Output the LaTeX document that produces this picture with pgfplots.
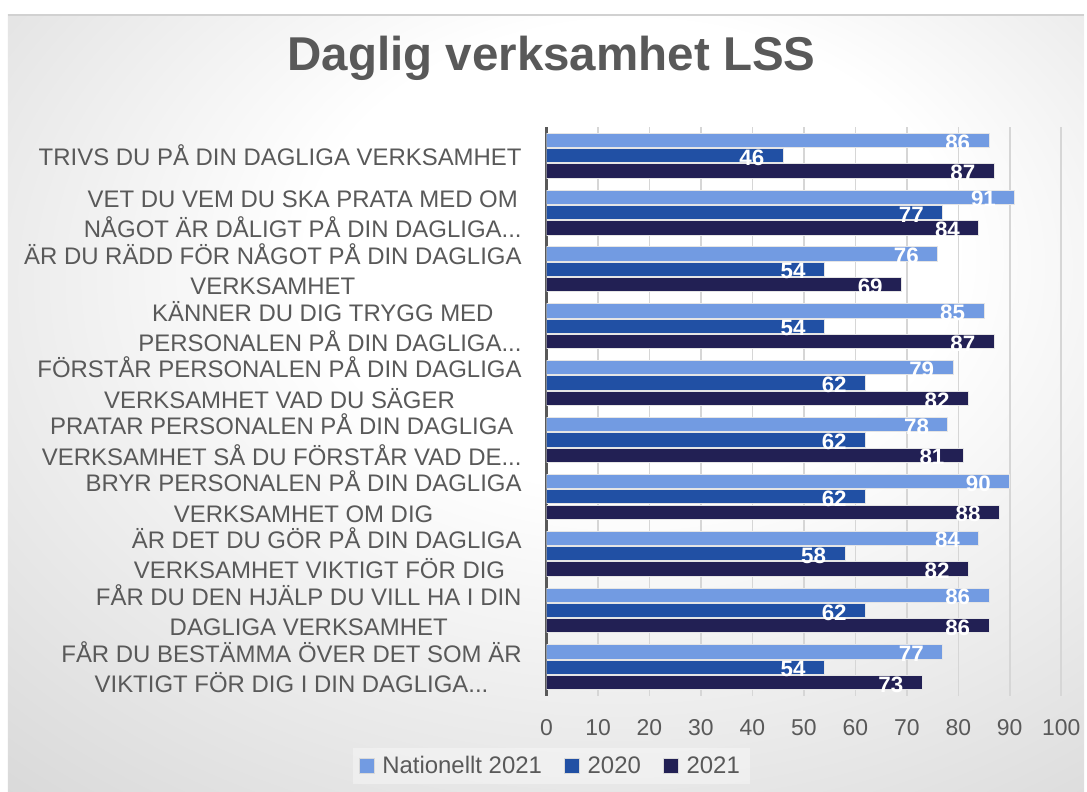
\documentclass[border=0pt]{standalone}
\usepackage{fontspec}
\setmainfont{Liberation Sans}
\usepackage{pgfplots}
\pgfplotsset{compat=1.18}

\definecolor{natblue}{RGB}{114,155,226}
\definecolor{blue20}{RGB}{33,80,164}
\definecolor{navy21}{RGB}{34,32,84}
\definecolor{txtgray}{RGB}{89,89,89}
\newcommand{\ddd}{...}

\pgfdeclareradialshading{chartbg}{\pgfpoint{5bp}{12bp}}{%
  color(0bp)=(white); color(15bp)=(white); color(50bp)=(black!20); color(75bp)=(black!27)}

\begin{document}
\begin{tikzpicture}
\fill[white] (0pt,0pt) rectangle (543.5pt,397pt);
\shade[shading=chartbg] (4pt,0pt) rectangle (543.5pt,389.5pt);
\draw[black!18, line width=0.8pt] (4pt,389.5pt) -- (543.5pt,389.5pt);
\node[anchor=base, font=\fontsize{23.8}{28}\selectfont\bfseries, text=txtgray]
  at (276.5pt,361.5pt) {Daglig verksamhet LSS};

\begin{axis}[
  at={(274pt,48.2pt)}, anchor=south west,
  scale only axis, width=258pt, height=285pt,
  xbar, bar width=0.25,
  xmin=0, xmax=100, ymin=-0.5, ymax=9.5, y dir=reverse,
  xtick={0,10,...,100}, ytick={0,...,9},
  yticklabels={
    {\strut TRIVS DU PÅ DIN DAGLIGA VERKSAMHET},
    {\strut VET DU VEM DU SKA PRATA MED OM\\\strut NÅGOT ÄR DÅLIGT PÅ DIN DAGLIGA\ddd},
    {\strut ÄR DU RÄDD FÖR NÅGOT PÅ DIN DAGLIGA\\\strut VERKSAMHET},
    {\strut KÄNNER DU DIG TRYGG MED\kern0.6em\\\strut PERSONALEN PÅ DIN DAGLIGA\ddd},
    {\strut FÖRSTÅR PERSONALEN PÅ DIN DAGLIGA\\\strut VERKSAMHET VAD DU SÄGER},
    {\strut PRATAR PERSONALEN PÅ DIN DAGLIGA\\\strut VERKSAMHET SÅ DU FÖRSTÅR VAD DE\ddd},
    {\strut BRYR PERSONALEN PÅ DIN DAGLIGA\\\strut VERKSAMHET OM DIG},
    {\strut ÄR DET DU GÖR PÅ DIN DAGLIGA\\\strut VERKSAMHET VIKTIGT FÖR DIG\kern0.6em},
    {\strut FÅR DU DEN HJÄLP DU VILL HA I DIN\\\strut DAGLIGA VERKSAMHET},
    {\strut FÅR DU BESTÄMMA ÖVER DET SOM ÄR\\\strut VIKTIGT FÖR DIG I DIN DAGLIGA\ddd}},
  yticklabel style={font=\fontsize{12}{15.2}\selectfont, align=center, text=txtgray,
    xshift=-9pt, yshift=-2pt, inner ysep=0pt},
  xticklabel style={font=\fontsize{11.5}{13}\selectfont, text=txtgray, yshift=-8.5pt},
  /pgf/number format/assume math mode=true,
  major tick length=0pt,
  axis lines=left, axis line style={-},
  x axis line style={draw=none},
  y axis line style={draw=txtgray, line width=1.2pt},
  xmajorgrids, grid style={black!16, line width=0.75pt},
  every node near coord/.append style={anchor=east, xshift=-6pt, yshift=-1pt,
    font=\fontsize{11.2}{13}\selectfont\bfseries, text=white},
  legend style={at={(0.009,-0.124)}, anchor=center, legend columns=3,
    draw=none, fill=white, fill opacity=0.35, text opacity=1,
    font=\fontsize{12}{14}\selectfont, text=txtgray,
    /tikz/every odd column/.append style={column sep=2pt},
    /tikz/every even column/.append style={column sep=9pt}},
  legend image code/.code={\draw[#1, fill opacity=1, draw opacity=1, draw=white!70!gray, line width=0.4pt] (0pt,-3.75pt) rectangle (7.5pt,3.75pt);},
]
% bars
\addplot[fill=natblue, draw=white!80!gray, line width=0.5pt, bar shift=-0.27]
  coordinates {(86,0) (91,1) (76,2) (85,3) (79,4) (78,5) (90,6) (84,7) (86,8) (77,9)};
\addlegendentry{Nationellt 2021}
\addplot[fill=blue20, draw=white!80!gray, line width=0.5pt, bar shift=0]
  coordinates {(46,0) (77,1) (54,2) (54,3) (62,4) (62,5) (62,6) (58,7) (62,8) (54,9)};
\addlegendentry{2020}
\addplot[fill=navy21, draw=white!80!gray, line width=0.5pt, bar shift=0.27]
  coordinates {(87,0) (84,1) (69,2) (87,3) (82,4) (81,5) (88,6) (82,7) (86,8) (73,9)};
\addlegendentry{2021}
% value labels, drawn after all bars so that they stay on top
\addplot[draw=none, fill=none, bar shift=-0.27, nodes near coords, forget plot]
  coordinates {(86,0) (91,1) (76,2) (85,3) (79,4) (78,5) (90,6) (84,7) (86,8) (77,9)};
\addplot[draw=none, fill=none, bar shift=0, nodes near coords, forget plot]
  coordinates {(46,0) (77,1) (54,2) (54,3) (62,4) (62,5) (62,6) (58,7) (62,8) (54,9)};
\addplot[draw=none, fill=none, bar shift=0.27, nodes near coords, forget plot]
  coordinates {(87,0) (84,1) (69,2) (87,3) (82,4) (81,5) (88,6) (82,7) (86,8) (73,9)};
\end{axis}
\end{tikzpicture}
\end{document}
